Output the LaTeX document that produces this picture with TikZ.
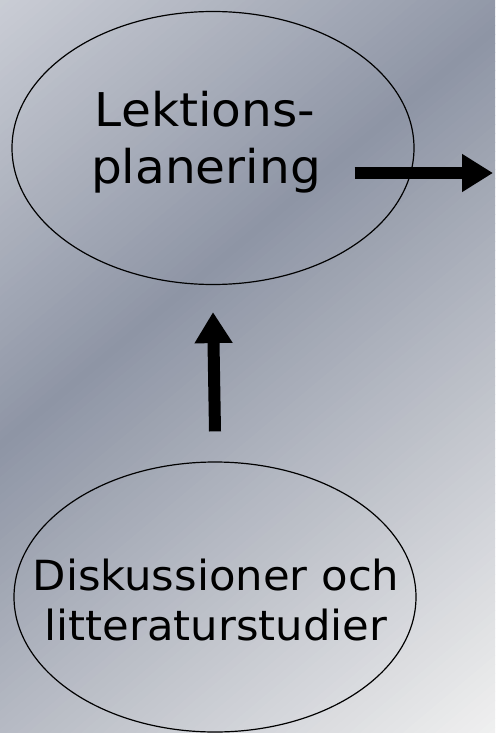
\documentclass[tikz,border=0pt]{standalone}
\usepackage{fontspec}
\setmainfont{DejaVu Sans}[FakeStretch=1.045]
\usetikzlibrary{shapes.geometric,arrows.meta}
\definecolor{bgA}{RGB}{202,205,213}
\definecolor{bgB}{RGB}{142,149,165}
\definecolor{bgC}{RGB}{240,240,240}
\begin{document}
\begin{tikzpicture}[x=1pt,y=-1pt,
  oval/.style={draw=black, line width=1.2pt, ellipse, inner sep=0pt, minimum width=402pt},
  lbl/.style={anchor=base, inner sep=0pt, text=black},
  bigarrow/.style={line width=12pt, -{Triangle[length=31pt,width=36pt]}}]
\useasboundingbox (0,0) rectangle (495,733);
\begin{scope}
\clip (0,0) rectangle (495,733);
\foreach \i in {0,...,127}{
  \pgfmathsetmacro\a{\i*9}
  \pgfmathsetmacro\m{\a+4.5}
  \ifdim\m pt<447pt
    \pgfmathsetmacro\pct{100-\m/4.47}
    \colorlet{stripc}{bgA!\pct!bgB}
  \else
    \pgfmathsetmacro\pct{min(100,(\m-447)/7.02)}
    \colorlet{stripc}{bgC!\pct!bgB}
  \fi
  \fill[stripc] (0,\a) -- (600,\a-504) -- (600,\a-494) -- (0,\a+10) -- cycle;
}
\end{scope}
\node[oval, minimum height=273pt] (top) at (213,148) {};
\node[oval, minimum height=270pt] (bot) at (215,597) {};
\node[lbl, font=\fontsize{46.5}{55}\selectfont] (t1) at (205,127) {Lektions-};
\node[lbl, font=\fontsize{46.5}{55}\selectfont] (t2) at (206,183) {planering};
\node[lbl, font=\fontsize{41.5}{50}\selectfont] (b1) at (216,590) {Diskussioner och};
\node[lbl, font=\fontsize{41.5}{50}\selectfont] (b2) at (216,640) {litteraturstudier};
\coordinate (rtip) at (493,173);
\draw[bigarrow] ([xshift=-60pt,yshift=-25pt]top.east) -- (rtip);
\draw[bigarrow] ([yshift=30pt]bot.north) -- ([yshift=-27pt]top.south);
\end{tikzpicture}
\end{document}
